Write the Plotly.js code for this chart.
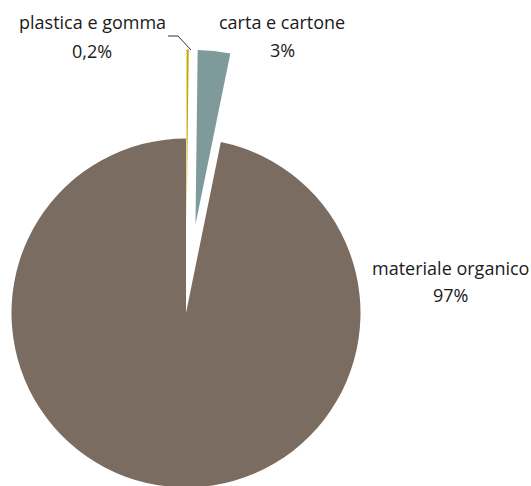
<!DOCTYPE html>
<html>
<head>
<meta charset="utf-8">
<script src="https://cdn.plot.ly/plotly-3.0.1.min.js"></script>
<style>
html,body{margin:0;padding:0;width:531px;height:486px;overflow:hidden;background:#fff;}
#chart{position:absolute;left:-200px;top:0;width:1000px;height:800px;}
</style>
</head>
<body>
<div id="chart"></div>
<script>
// Data
var categories = ["plastica e gomma", "carta e cartone", "materiale organico"];
var values = [0.2, 3.0, 96.8];
var percentLabels = ["0,2%", "3%", "97%"];
var colors = ["#c4a800", "#7f9a9b", "#7a6c61"];
var pulls = [0.51, 0.51, 0];

// Div geometry (the div is larger than the viewport and shifted left)
var DIV_W = 1000, DIV_H = 800, OFF_X = -200, OFF_Y = 0;
function px(x){ return (x - OFF_X) / DIV_W; }
function py(y){ return 1 - (y - OFF_Y) / DIV_H; }

// label positions in page pixels
var labelPos = [
  {x: 92, y: 22, py2: 51},
  {x: 282, y: 22, py2: 50},
  {x: 450, y: 268, py2: 295}
];

var FONT = {family: "Open Sans, sans-serif", size: 18, color: "#1a1a1a"};
var annotations = [];
for (var i = 0; i < categories.length; i++) {
  annotations.push({
    text: categories[i], xref: "paper", yref: "paper",
    x: px(labelPos[i].x), y: py(labelPos[i].y),
    xanchor: "center", yanchor: "middle", showarrow: false, font: FONT
  });
  annotations.push({
    text: percentLabels[i], xref: "paper", yref: "paper",
    x: px(labelPos[i].x), y: py(labelPos[i].py2),
    xanchor: "center", yanchor: "middle", showarrow: false, font: FONT
  });
}

var leader = [[168, 36], [178, 36], [191, 50]];
var path = "M" + leader.map(function(p){ return px(p[0]) + "," + py(p[1]); }).join(" L");

var trace = {
  type: "pie",
  labels: categories,
  values: values,
  sort: false,
  direction: "clockwise",
  rotation: 0,
  pull: pulls,
  marker: {colors: colors, line: {color: "#ffffff", width: 0}},
  textinfo: "none",
  hoverinfo: "label+percent",
  showlegend: false,
  domain: {x: [0.1225, 0.6495], y: [0.279375, 0.938125]}
};

var layout = {
  width: DIV_W, height: DIV_H,
  margin: {l: 0, r: 0, t: 0, b: 0},
  paper_bgcolor: "#ffffff",
  showlegend: false,
  annotations: annotations,
  shapes: [{
    type: "path", xref: "paper", yref: "paper", path: path,
    line: {color: "#333333", width: 1}
  }]
};

Plotly.newPlot("chart", [trace], layout, {displayModeBar: false, staticPlot: true});
</script>
</body>
</html>
